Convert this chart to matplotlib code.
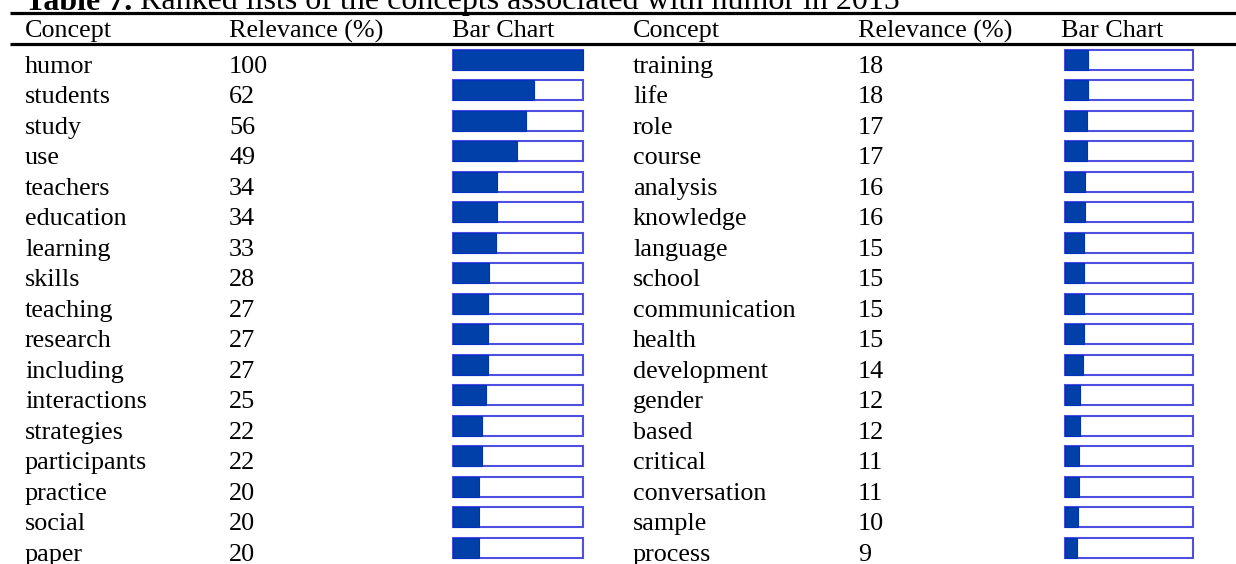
import numpy as np
import matplotlib
matplotlib.use("Agg")
import matplotlib.pyplot as plt

W, H = 1236, 564

title_bold = "Table 7."
title_rest = " Ranked lists of the concepts associated with humor in 2015"
headers = ["Concept", "Relevance (%)", "Bar Chart"]

left_concepts = ["humor", "students", "study", "use", "teachers", "education",
                 "learning", "skills", "teaching", "research", "including",
                 "interactions", "strategies", "participants", "practice",
                 "social", "paper"]
left_values = [100, 62, 56, 49, 34, 34, 33, 28, 27, 27, 27, 25, 22, 22, 20, 20, 20]

right_concepts = ["training", "life", "role", "course", "analysis", "knowledge",
                  "language", "school", "communication", "health", "development",
                  "gender", "based", "critical", "conversation", "sample",
                  "process"]
right_values = [18, 18, 17, 17, 16, 16, 15, 15, 15, 15, 14, 12, 12, 11, 11, 10, 9]

# layout (pixels)
row0, row_step = 59.5, 30.5
text_drop = 13.2
body_fs = 18.8
title_fs = 23
fill_col = "#0040a8"
edge_col = "#5050e0"
tables = [
    (left_concepts, left_values, 25, 229, 452, 453, 583),
    (right_concepts, right_values, 633, 858, 1061, 1065, 1193),
]

plt.rcParams["font.family"] = ["Liberation Serif", "DejaVu Serif"]
fig = plt.figure(figsize=(W / 100, H / 100), dpi=100)
ax = fig.add_axes([0, 0, 1, 1])
ax.set_xlim(0, W)
ax.set_ylim(H, 0)
ax.axis("off")

# title is cut at the top edge, as in the source image
t = ax.text(25, 9.5, title_bold, fontsize=title_fs, fontweight="bold", va="baseline")
fig.canvas.draw()
bb = t.get_window_extent()
x_rest = ax.transData.inverted().transform((bb.x1, 0))[0]
ax.text(x_rest, 9.5, title_rest, fontsize=title_fs, va="baseline")

ax.plot([10, W], [12.8, 12.8], color="black", lw=2.3, solid_capstyle="butt")
ax.plot([10, W], [44.3, 44.3], color="black", lw=2.3, solid_capstyle="butt")

for concepts, values, xc, xr, xh, bx0, bx1 in tables:
    for hx, h in zip([xc, xr, xh], headers):
        ax.text(hx, 37.3, h, fontsize=body_fs, va="baseline")
    n = len(concepts)
    for i, (c, v) in enumerate(zip(concepts, values)):
        yb = row0 + i * row_step + text_drop
        ax.text(xc, yb, c, fontsize=body_fs, va="baseline")
        ax.text(xr, yb, str(v), fontsize=body_fs, va="baseline")

    # bar column axes: x in percent, y in row index
    top = row0 - row_step / 2
    bottom = row0 + (n - 0.5) * row_step
    bax = fig.add_axes([bx0 / W, 1 - bottom / H, (bx1 - bx0) / W, (bottom - top) / H])
    bax.set_xlim(0, 100)
    bax.set_ylim(n - 0.5, -0.5)
    bax.axis("off")
    rows = np.arange(n)
    bh = 20 / row_step
    bax.barh(rows, [100] * n, height=bh, color="white", edgecolor=edge_col,
             linewidth=1.5, clip_on=False)
    bax.barh(rows, values, height=bh, color=fill_col, edgecolor="#0030c0",
             linewidth=0.8, clip_on=False)

fig.savefig("out.png", dpi=100)
